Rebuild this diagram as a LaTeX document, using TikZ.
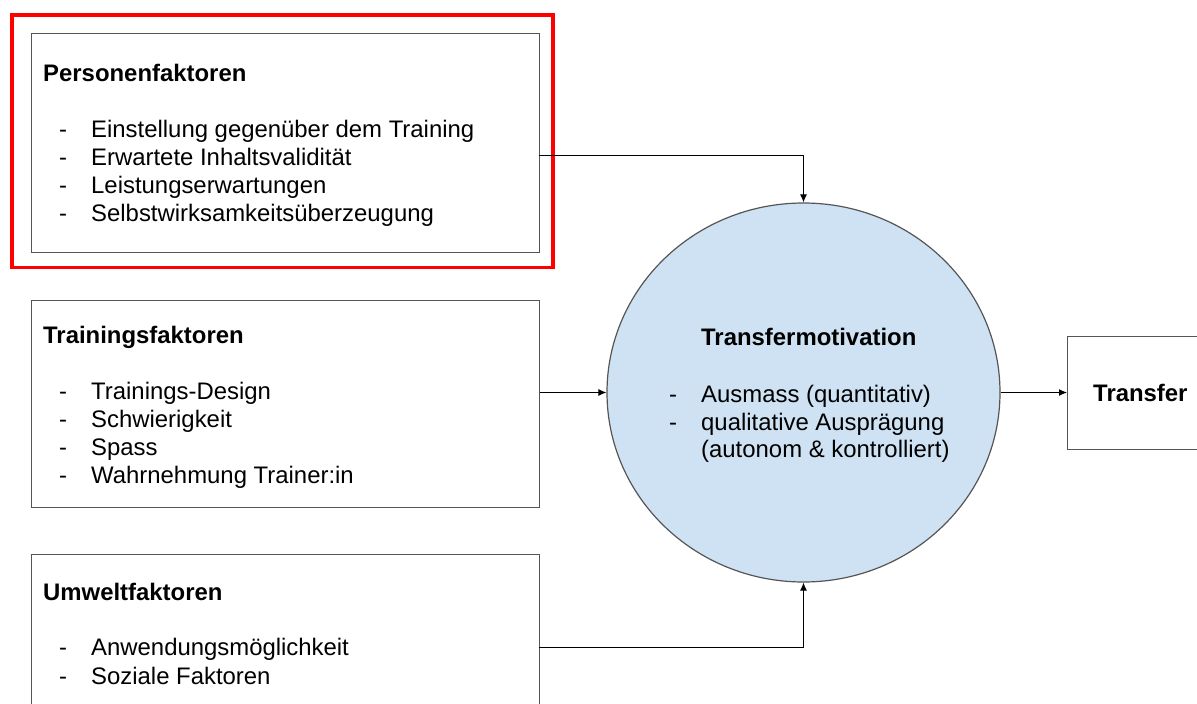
\documentclass[tikz,border=0pt]{standalone}
\usepackage{fontspec}
\setmainfont{Liberation Sans}
\usetikzlibrary{shapes.geometric,arrows.meta}
\definecolor{boxline}{HTML}{555555}
\definecolor{motfill}{HTML}{CFE2F3}
\definecolor{hlred}{HTML}{FF0000}
\tikzset{
  factorbox/.style={draw=boxline, line width=1.2pt, rectangle, anchor=north west, inner sep=0pt},
  txt/.style={anchor=base west, inner sep=0pt, font=\fontsize{23.9}{28}\selectfont},
  ttl/.style={txt, font=\fontsize{23.9}{28}\selectfont\bfseries},
  conn/.style={draw=black, line width=1pt, -{Latex[length=8pt,width=7pt]}},
}
\begin{document}
\begin{tikzpicture}[x=1pt,y=-1pt]
\useasboundingbox (0,0) rectangle (1197,704);
% highlight
\draw[hlred, line width=3.6pt] (12,15) rectangle (553,267.5);
% boxes
\node[factorbox, minimum width=508pt, minimum height=219pt] (p) at (31,33) {};
\node[factorbox, minimum width=508pt, minimum height=207pt] (t) at (31,300) {};
\node[factorbox, minimum width=508pt, minimum height=200pt] (u) at (31,554) {};
\node[factorbox, minimum width=160pt, minimum height=113pt] (tr) at (1067,336) {};
% ellipse
\node[ellipse, draw=boxline, line width=1.2pt, fill=motfill, minimum width=393pt, minimum height=379pt, inner sep=0pt] (m) at (803.5,392.5) {};
% Personenfaktoren
\node[ttl] (p0) at (43,81) {Personenfaktoren};
\node[txt] (p1d) at (59,137) {-};
\node[txt] (p1) at (91,137) {Einstellung gegenüber dem Training};
\node[txt] (p2d) at (59,165) {-};
\node[txt] (p2) at (91,165) {Erwartete Inhaltsvalidität};
\node[txt] (p3d) at (59,193) {-};
\node[txt] (p3) at (91,193) {Leistungserwartungen};
\node[txt] (p4d) at (59,221) {-};
\node[txt] (p4) at (91,221) {Selbstwirksamkeitsüberzeugung};
% Trainingsfaktoren
\node[ttl] (t0) at (43,343) {Trainingsfaktoren};
\node[txt] (t1d) at (59,399) {-};
\node[txt] (t1) at (91,399) {Trainings-Design};
\node[txt] (t2d) at (59,427) {-};
\node[txt] (t2) at (91,427) {Schwierigkeit};
\node[txt] (t3d) at (59,455) {-};
\node[txt] (t3) at (91,455) {Spass};
\node[txt] (t4d) at (59,483) {-};
\node[txt] (t4) at (91,483) {Wahrnehmung Trainer:in};
% Umweltfaktoren
\node[ttl] (u0) at (43,600) {Umweltfaktoren};
\node[txt] (u1d) at (59,655) {-};
\node[txt] (u1) at (91,655) {Anwendungsmöglichkeit};
\node[txt] (u2d) at (59,684) {-};
\node[txt] (u2) at (91,684) {Soziale Faktoren};
% Transfermotivation
\node[ttl] (m0) at (701,345) {Transfermotivation};
\node[txt] (m1d) at (669,402) {-};
\node[txt] (m1) at (701,402) {Ausmass (quantitativ)};
\node[txt] (m2d) at (669,430) {-};
\node[txt] (m2) at (701,430) {qualitative Ausprägung};
\node[txt] (m3) at (701,457) {(autonom \& kontrolliert)};
% Transfer
\node[ttl] (tr0) at (1093,401) {Transfer};
% connectors
\coordinate (pout) at (539,155);
\coordinate (uout) at (539,647);
\draw[conn] (pout) -| (m.north);
\draw[conn] (m.west -| t.east) -- (m.west);
\draw[conn] (uout) -| (m.south);
\draw[conn] (m.east) -- (m.east -| tr.west);
\end{tikzpicture}
\end{document}
